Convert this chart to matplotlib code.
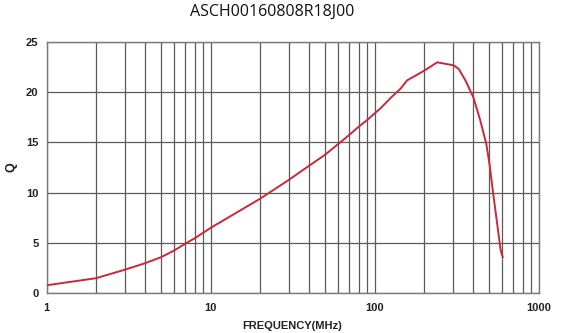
import matplotlib.pyplot as plt
from matplotlib.ticker import FixedLocator, LogLocator, NullFormatter

# Dados (frequência em MHz, Q)
freq = [1, 2, 3, 4, 5, 6, 7, 8, 10, 20, 30, 40, 50, 60, 70, 80, 90, 100,
        109, 126, 144, 158, 200, 241, 304, 326, 358, 400, 441, 480, 502, 526, 556, 588, 605]
q = [0.8, 1.5, 2.35, 3.0, 3.6, 4.26, 4.93, 5.47, 6.5, 9.39, 11.27, 12.69, 13.78, 14.83,
     15.73, 16.55, 17.21, 17.87, 18.4, 19.45, 20.33, 21.16, 22.1, 22.95, 22.65, 22.3,
     21.16, 19.5, 17.19, 14.87, 12.88, 10.23, 7.25, 4.27, 3.6]

titulo = "ASCH00160808R18J00"
y_ticks = [0, 5, 10, 15, 20, 25]
x_ticks = [1, 10, 100, 1000]
x_labels = ["1", "10", "100", "1000"]

fig = plt.figure(figsize=(5.64, 3.33), dpi=100)
ax = fig.add_axes([0.0828, 0.1192, 0.872, 0.7556])

ax.plot(freq, q, color="#c8283a", linewidth=1.4, zorder=3)

ax.set_xscale("log")
ax.set_xlim(1, 1000)
ax.set_ylim(0, 25)

ax.xaxis.set_major_locator(FixedLocator(x_ticks))
ax.xaxis.set_minor_locator(LogLocator(base=10, subs=range(2, 10)))
ax.xaxis.set_minor_formatter(NullFormatter())
ax.set_xticklabels(x_labels)
ax.set_yticks(y_ticks)

ax.grid(which="both", axis="x", color="#5a5a5a", linewidth=0.9)
ax.grid(which="major", axis="y", color="#5a5a5a", linewidth=0.9)
for s in ax.spines.values():
    s.set_color("#7a7a7a")
    s.set_linewidth(1.0)

ax.tick_params(which="both", length=0)
ax.tick_params(axis="x", pad=7)
ax.tick_params(axis="y", pad=6)
for lbl in ax.get_xticklabels() + ax.get_yticklabels():
    lbl.set_fontweight("bold")
    lbl.set_fontsize(8)
    lbl.set_color("#222222")
    lbl.set_family("Liberation Sans")

ax.set_xlabel("FREQUENCY(MHz)", fontsize=8, fontweight="bold", family="Liberation Sans",
              color="#222222", labelpad=6)

# rótulo Q do eixo y, posicionado na figura
fig.text(12 / 564, 1 - 167 / 333, "Q", rotation=90, ha="center", va="center",
         fontsize=9, fontweight="bold", family="Liberation Sans", color="#222222")

fig.text(272 / 564, 1 - 12 / 333, titulo, ha="center", va="center",
         fontsize=11.5, family="Open Sans", color="#111111")

fig.savefig("out.png", dpi=100)
plt.close(fig)
